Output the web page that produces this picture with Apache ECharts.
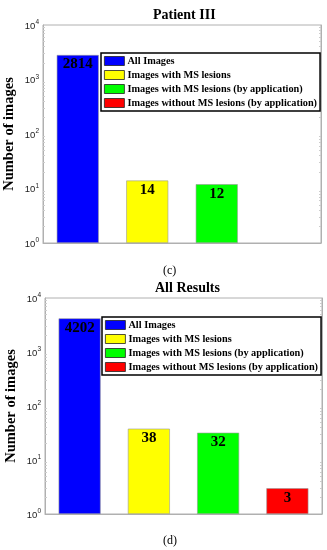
<!DOCTYPE html>
<html>
<head>
<meta charset="utf-8">
<script src="https://cdn.jsdelivr.net/npm/echarts@6/dist/echarts.min.js"></script>
<style>html,body{margin:0;padding:0;background:#fff;}#c{width:327px;height:550px;}</style>
</head>
<body>
<div id="c"></div>
<script>
const categories = ['All Images', 'Images with MS lesions', 'Images with MS lesions (by application)', 'Images without MS lesions (by application)'];
const patientIII = [2814, 14, 12, null];
const allResults = [4202, 38, 32, 3];
const colors = ['#0000ff', '#ffff00', '#00ff00', '#ff0000'];
const titles = ['Patient III', 'All Results'];
const panelLabels = ['(c)', '(d)'];
const yTicks = [1, 10, 100, 1000, 10000];

const serif = '"Liberation Serif", "Times New Roman", serif';
const grids = [
  {left: 43, right: 6, top: 25, height: 218, show: true, borderColor: '#b0b0b0', borderWidth: 1, containLabel: false, outerBoundsMode: 'none'},
  {left: 45, right: 5, top: 298, height: 216, show: true, borderColor: '#b0b0b0', borderWidth: 1, containLabel: false, outerBoundsMode: 'none'}
];
const datasets = [patientIII, allResults];

const xAxis = [], yAxis = [], series = [];
grids.forEach((g, gi) => {
  xAxis.push({type: 'category', gridIndex: gi, data: categories,
    axisLabel: {show: false}, axisTick: {show: false},
    axisLine: {lineStyle: {color: '#b0b0b0'}}});
  const yBase = {type: 'log', logBase: 10, gridIndex: gi, min: yTicks[0], max: yTicks[yTicks.length - 1], splitNumber: 4,
    splitLine: {show: false},
    axisTick: {inside: true, length: 3, lineStyle: {color: '#888'}},
    minorTick: {show: true, splitNumber: 9, length: 2, lineStyle: {color: '#ccc'}},
    axisLine: {show: true, lineStyle: {color: '#b0b0b0'}}};
  yAxis.push(Object.assign({}, yBase, {
    position: 'left',
    name: 'Number of images', nameLocation: 'middle', nameGap: 26, nameMoveOverlap: false,
    nameTextStyle: {fontFamily: serif, fontWeight: 'bold', fontSize: 14.5, color: '#000'},
    axisLabel: {
      margin: 4,
      formatter: v => '{b|10}{s|' + Math.round(Math.log10(v)) + '}',
      rich: {
        b: {fontFamily: 'Liberation Sans, Arial, sans-serif', fontSize: 9.5, color: '#222', verticalAlign: 'bottom', lineHeight: 12},
        s: {fontFamily: 'Liberation Sans, Arial, sans-serif', fontSize: 6.5, color: '#222', verticalAlign: 'top', lineHeight: 12, padding: [0, 0, 6, 0]}
      }
    }
  }));
  yAxis.push(Object.assign({}, yBase, {position: 'right', axisLabel: {show: false}}));
  const vals = datasets[gi];
  categories.forEach((name, i) => {
    series.push({
      type: 'bar', name: name, xAxisIndex: gi, yAxisIndex: gi * 2,
      barWidth: 42, barGap: '-100%',
      itemStyle: {color: colors[i], borderColor: '#999', borderWidth: 0.6},
      label: {show: true, position: 'insideTop', distance: 2,
        fontFamily: serif, fontWeight: 'bold', fontSize: 15, color: '#000'},
      data: categories.map((c, j) => (j === i && vals[i] != null) ? vals[i] : '-')
    });
  });
});

const legendBase = {
  orient: 'vertical', data: categories, icon: 'rect', itemWidth: 20, itemHeight: 9, itemGap: 4,
  padding: [3, 3, 3, 3], borderColor: '#000', borderWidth: 1.5, backgroundColor: '#fff',
  itemStyle: {borderColor: '#222', borderWidth: 0.8},
  textStyle: {fontFamily: serif, fontWeight: 'bold', fontSize: 10.3, color: '#000', lineHeight: 10, padding: [0, 0, 0, -2]},
  selectedMode: false
};

const chart = echarts.init(document.getElementById('c'), null, {renderer: 'canvas'});
chart.setOption({
  animation: false,
  backgroundColor: '#fff',
  title: [
    {text: titles[0], left: 148, top: 3, textStyle: {fontFamily: serif, fontWeight: 'bold', fontSize: 14, color: '#000'}},
    {text: titles[1], left: 150, top: 276, textStyle: {fontFamily: serif, fontWeight: 'bold', fontSize: 14, color: '#000'}},
    {text: panelLabels[0], left: 158, top: 260, textStyle: {fontFamily: serif, fontWeight: 'normal', fontSize: 12, color: '#000'}},
    {text: panelLabels[1], left: 158, top: 530, textStyle: {fontFamily: serif, fontWeight: 'normal', fontSize: 12, color: '#000'}}
  ],
  legend: [
    Object.assign({}, legendBase, {left: 101, top: 53}),
    Object.assign({}, legendBase, {left: 102, top: 317})
  ],
  grid: grids,
  xAxis: xAxis,
  yAxis: yAxis,
  series: series
});
</script>
</body>
</html>
